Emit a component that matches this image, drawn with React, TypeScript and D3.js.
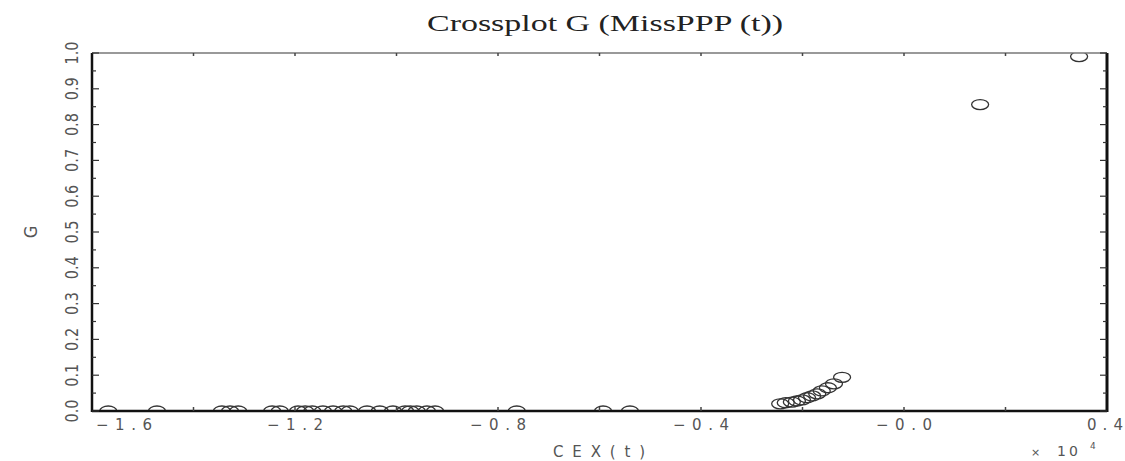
import React from 'react';
import * as d3 from 'd3';

// CEX(t) in units of 10^4, G on the vertical axis
const bottomRowX = [
  -1.568, -1.472, -1.344, -1.328, -1.312, -1.245, -1.23, -1.194, -1.18, -1.166,
  -1.145, -1.125, -1.105, -1.092, -1.058, -1.033, -1.007, -0.983, -0.973, -0.96,
  -0.94, -0.924, -0.763, -0.593, -0.54,
];
const clusterX = [-0.244, -0.233, -0.221, -0.211, -0.201, -0.191, -0.181, -0.171, -0.162, -0.15, -0.138, -0.122];
const clusterG = [0.02, 0.023, 0.025, 0.028, 0.031, 0.037, 0.042, 0.048, 0.056, 0.065, 0.076, 0.094];
const upperX = [0.15, 0.345];
const upperG = [0.856, 0.99];

const xTickLabels = ['\u22121.6', '\u22121.2', '\u22120.8', '\u22120.4', '\u22120.0', '0.4'];
const xTickValues = [-1.6, -1.2, -0.8, -0.4, 0.0, 0.4];
const yTickLabels = ['0.0', '0.1', '0.2', '0.3', '0.4', '0.5', '0.6', '0.7', '0.8', '0.9', '1.0'];

const W = 1125;
const H = 461;
const left = 92, right = 1107, top = 53, bottom = 411;

const App = () => {
  const x = d3.scaleLinear().domain([-1.6, 0.4]).range([left, right]);
  const y = d3.scaleLinear().domain([0, 1]).range([bottom, top]);

  const points = [
    ...bottomRowX.map(v => ({ cx: v, g: 0 })),
    ...clusterX.map((v, i) => ({ cx: v, g: clusterG[i] })),
    ...upperX.map((v, i) => ({ cx: v, g: upperG[i] })),
  ];

  const yTicks = d3.range(0, 1.0001, 0.05);
  const xTicks = d3.range(-1.4, 0.39, 0.2);
  const last = xTickLabels.length - 1;

  return (
    <svg width={W} height={H} style={{ position: 'absolute', left: 0, top: 0, background: '#fff' }}>
      <defs>
        <clipPath id="plotArea">
          <rect x={left} y={top} width={right - left} height={bottom - top} />
        </clipPath>
      </defs>

      {/* title */}
      <text x={605} y={31} textAnchor="middle" fontFamily="'Liberation Serif', serif" fontSize={24}
        textLength={356} lengthAdjust="spacingAndGlyphs" fill="#222">
        Crossplot G (MissPPP (t))
      </text>

      {/* points */}
      <g clipPath="url(#plotArea)">
        {points.map((p, i) => (
          <ellipse key={i} cx={x(p.cx)} cy={y(p.g)} rx={8.5} ry={5} fill="none" stroke="#333" strokeWidth={1.3} />
        ))}
      </g>

      {/* frame */}
      <line x1={left} x2={right} y1={top} y2={top} stroke="#777" strokeWidth={1.5} />
      <line x1={left} x2={right} y1={bottom} y2={bottom} stroke="#111" strokeWidth={2.5} />
      <line x1={left} x2={left} y1={top} y2={bottom + 1} stroke="#111" strokeWidth={2.5} />
      <line x1={right} x2={right} y1={top} y2={bottom + 1} stroke="#111" strokeWidth={3} />

      {/* y ticks, left and right, inward */}
      {yTicks.map((t, i) => {
        const len = i % 2 === 0 ? 7 : 4;
        return (
          <g key={i}>
            <line x1={left} x2={left + len} y1={y(t)} y2={y(t)} stroke="#333" strokeWidth={1.2} />
            <line x1={right - len} x2={right} y1={y(t)} y2={y(t)} stroke="#333" strokeWidth={1.2} />
          </g>
        );
      })}

      {/* x ticks, top and bottom */}
      {xTicks.map((t, i) => (
        <g key={i}>
          <line x1={x(t)} x2={x(t)} y1={top} y2={top + 3} stroke="#444" strokeWidth={1.5} />
          <line x1={x(t)} x2={x(t)} y1={bottom} y2={bottom - 4} stroke="#444" strokeWidth={1.5} />
        </g>
      ))}

      {/* x tick labels */}
      {xTickLabels.map((lab, i) => (
        <text key={lab}
          x={i === 0 ? x(xTickValues[i]) + 4 : i === last ? W - 2 : x(xTickValues[i])} y={430}
          textAnchor={i === 0 ? 'start' : i === last ? 'end' : 'middle'}
          fontFamily="'DejaVu Sans', sans-serif" fontSize={15}
          textLength={i === last ? 36 : 56} lengthAdjust="spacing" fill="#555">
          {lab}
        </text>
      ))}

      {/* y tick labels */}
      {yTickLabels.map((lab, i) => (
        <text key={lab} transform={`translate(72,${y(i / 10)}) rotate(-90)`} textAnchor="middle"
          dominantBaseline="central" fontFamily="'DejaVu Sans Condensed', 'Liberation Sans Narrow', sans-serif"
          fontStretch="condensed" fontSize={17} textLength={23} lengthAdjust="spacingAndGlyphs" fill="#555">
          {lab}
        </text>
      ))}

      {/* axis titles */}
      <text x={599} y={457} textAnchor="middle" fontFamily="'DejaVu Sans', sans-serif" fontSize={15}
        textLength={92} lengthAdjust="spacing" fill="#555">
        CEX(t)
      </text>
      <text transform={`translate(30,232) rotate(-90)`} textAnchor="middle" dominantBaseline="central"
        fontFamily="'DejaVu Sans Condensed', sans-serif" fontSize={18} fill="#555">
        G
      </text>
      <text x={1031} y={456} fontFamily="'DejaVu Sans', sans-serif" fontSize={11} fill="#555">
        ×
      </text>
      <text x={1057} y={456} fontFamily="'DejaVu Sans', sans-serif" fontSize={14} letterSpacing={3} fill="#555">
        10
      </text>
      <text x={1090} y={449} fontFamily="'DejaVu Sans', sans-serif" fontSize={9} fill="#555">
        4
      </text>
    </svg>
  );
};

export default App;
